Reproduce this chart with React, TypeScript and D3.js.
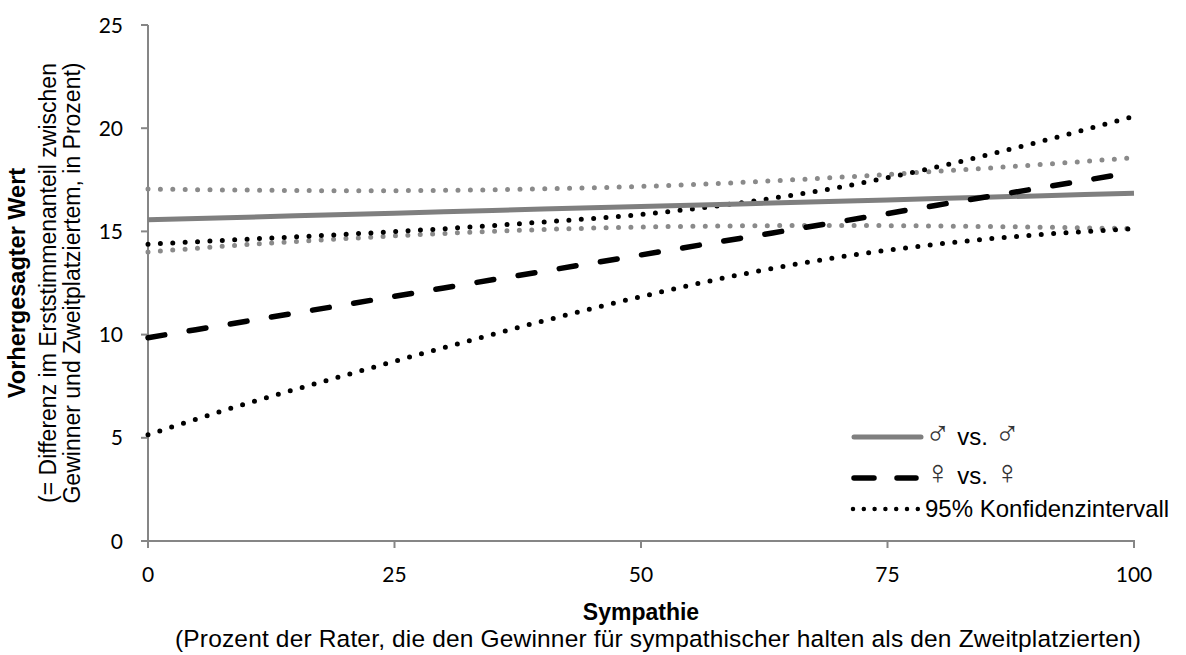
import React from "react";
import * as d3 from "d3";

const xTicks = [0, 25, 50, 75, 100];
const yTicks = [0, 5, 10, 15, 20, 25];
const sympathie = [0, 10, 20, 30, 40, 50, 60, 70, 80, 90, 100];

// ♂ vs. ♂ predicted value and 95% CI
const maleFit = [15.56, 15.69, 15.82, 15.95, 16.08, 16.21, 16.33, 16.46, 16.59, 16.72, 16.85];
const maleUpper = [17.05, 17.0, 16.97, 16.99, 17.06, 17.18, 17.37, 17.62, 17.91, 18.22, 18.57];
const maleLower = [14.0, 14.36, 14.65, 14.9, 15.09, 15.21, 15.27, 15.29, 15.26, 15.21, 15.13];

// ♀ vs. ♀ predicted value and 95% CI
const femaleFit = [9.85, 10.65, 11.45, 12.26, 13.06, 13.86, 14.66, 15.46, 16.27, 17.07, 17.87];
const femaleUpper = [14.38, 14.62, 14.86, 15.13, 15.45, 15.82, 16.38, 17.13, 18.12, 19.29, 20.58];
const femaleLower = [5.15, 6.66, 8.03, 9.37, 10.65, 11.84, 12.9, 13.75, 14.38, 14.83, 15.13];

const legendSymbols = ["\u2642", "\u2640", ""];
const legendLabels = ["vs.", "vs.", "95% Konfidenzintervall"];

export default function App() {
  const W = 1186;
  const H = 655;
  const x = d3.scaleLinear().domain([0, 100]).range([148, 1134]);
  const y = d3.scaleLinear().domain([0, 25]).range([541, 25]);
  const line = (vals: number[]) =>
    d3
      .line<number>()
      .x((_, i) => x(sympathie[i]))
      .y((v) => y(v))
      .curve(d3.curveMonotoneX)(vals) as string;

  const axisColor = "#868686";
  const tickFont = "Lato, 'Open Sans', sans-serif";
  const arial = "'Liberation Sans', Arial, sans-serif";
  const sym = "'DejaVu Sans ExtraLight', 'DejaVu Sans', sans-serif";
  const grayLine = "#7f7f7f";
  const grayDot = "#8a8a8a";
  const dotProps = { fill: "none", strokeWidth: 5, strokeLinecap: "round" as const, strokeDasharray: "0 12.4" };

  const legendBase = [445, 484, 517];

  return (
    <svg width={W} height={H} style={{ position: "absolute", left: 0, top: 0, background: "#fff" }}>
      {/* axes */}
      <line x1={x(0)} x2={x(0)} y1={y(25)} y2={y(0)} stroke={axisColor} strokeWidth={2} />
      <line x1={x(0) - 7} x2={x(100) + 1} y1={y(0)} y2={y(0)} stroke={axisColor} strokeWidth={2} />
      {yTicks.map((t) => (
        <g key={"y" + t}>
          <line x1={x(0) - 7} x2={x(0)} y1={y(t)} y2={y(t)} stroke={axisColor} strokeWidth={2} />
          <text x={123} y={y(t)} dy="0.36em" textAnchor="end" fontFamily={tickFont} fontSize={21} fill="#000">
            {t}
          </text>
        </g>
      ))}
      {xTicks.map((t) => (
        <g key={"x" + t}>
          <line x1={x(t)} x2={x(t)} y1={y(0)} y2={y(0) + 7} stroke={axisColor} strokeWidth={2} />
          <text x={x(t)} y={582} textAnchor="middle" fontFamily={tickFont} fontSize={21} fill="#000">
            {t}
          </text>
        </g>
      ))}

      {/* CI lines */}
      <path d={line(maleUpper)} stroke={grayDot} {...dotProps} />
      <path d={line(maleLower)} stroke={grayDot} {...dotProps} />
      <path d={line(femaleUpper)} stroke="#000" {...dotProps} />
      <path d={line(femaleLower)} stroke="#000" {...dotProps} />
      {/* fitted lines */}
      <path d={line(maleFit)} stroke={grayLine} strokeWidth={5} fill="none" />
      <path d={line(femaleFit)} stroke="#000" strokeWidth={5.5} fill="none" strokeLinecap="round" strokeDasharray="17 24.7" />

      {/* legend */}
      <line x1={854} x2={921} y1={437} y2={437} stroke={grayLine} strokeWidth={5} strokeLinecap="round" />
      <line x1={854} x2={916} y1={478} y2={478} stroke="#000" strokeWidth={5.5} strokeLinecap="round" strokeDasharray="20 23" />
      <line x1={853} x2={920} y1={509} y2={509} stroke="#000" strokeWidth={4.5} strokeLinecap="round" strokeDasharray="0 10.8" />
      {legendLabels.map((l, i) => (
        <text key={i} x={925} y={legendBase[i]} fontFamily={arial} fontSize={24} fill="#000">
          {legendSymbols[i] ? (
            <>
              <tspan fontFamily={sym} fontWeight={200} fontSize={34} fill="#333">{legendSymbols[i]}</tspan>
              <tspan> {l} </tspan>
              <tspan fontFamily={sym} fontWeight={200} fontSize={34} fill="#333">{legendSymbols[i]}</tspan>
            </>
          ) : (
            l
          )}
        </text>
      ))}

      {/* axis titles */}
      <text x={641} y={620} textAnchor="middle" fontFamily={arial} fontSize={23} fontWeight="bold">
        Sympathie
      </text>
      <text x={175} y={647} textAnchor="start" fontFamily={arial} fontSize={24.5} textLength={966} lengthAdjust="spacing">
        (Prozent der Rater, die den Gewinner für sympathischer halten als den Zweitplatzierten)
      </text>
      <g transform={`translate(25, ${y(12.5)}) rotate(-90)`}>
        <text x={0} y={0} textAnchor="middle" fontFamily={arial} fontSize={23.5} fontWeight="bold">
          Vorhergesagter Wert
        </text>
      </g>
      <g transform={`translate(56, ${y(12.5)}) rotate(-90)`}>
        <text x={0} y={0} textAnchor="middle" fontFamily={arial} fontSize={23}>
          (= Differenz im Erststimmenanteil zwischen
        </text>
      </g>
      <g transform={`translate(80, ${y(12.5)}) rotate(-90)`}>
        <text x={0} y={0} textAnchor="middle" fontFamily={arial} fontSize={23}>
          Gewinner und Zweitplatziertem, in Prozent)
        </text>
      </g>
    </svg>
  );
}
